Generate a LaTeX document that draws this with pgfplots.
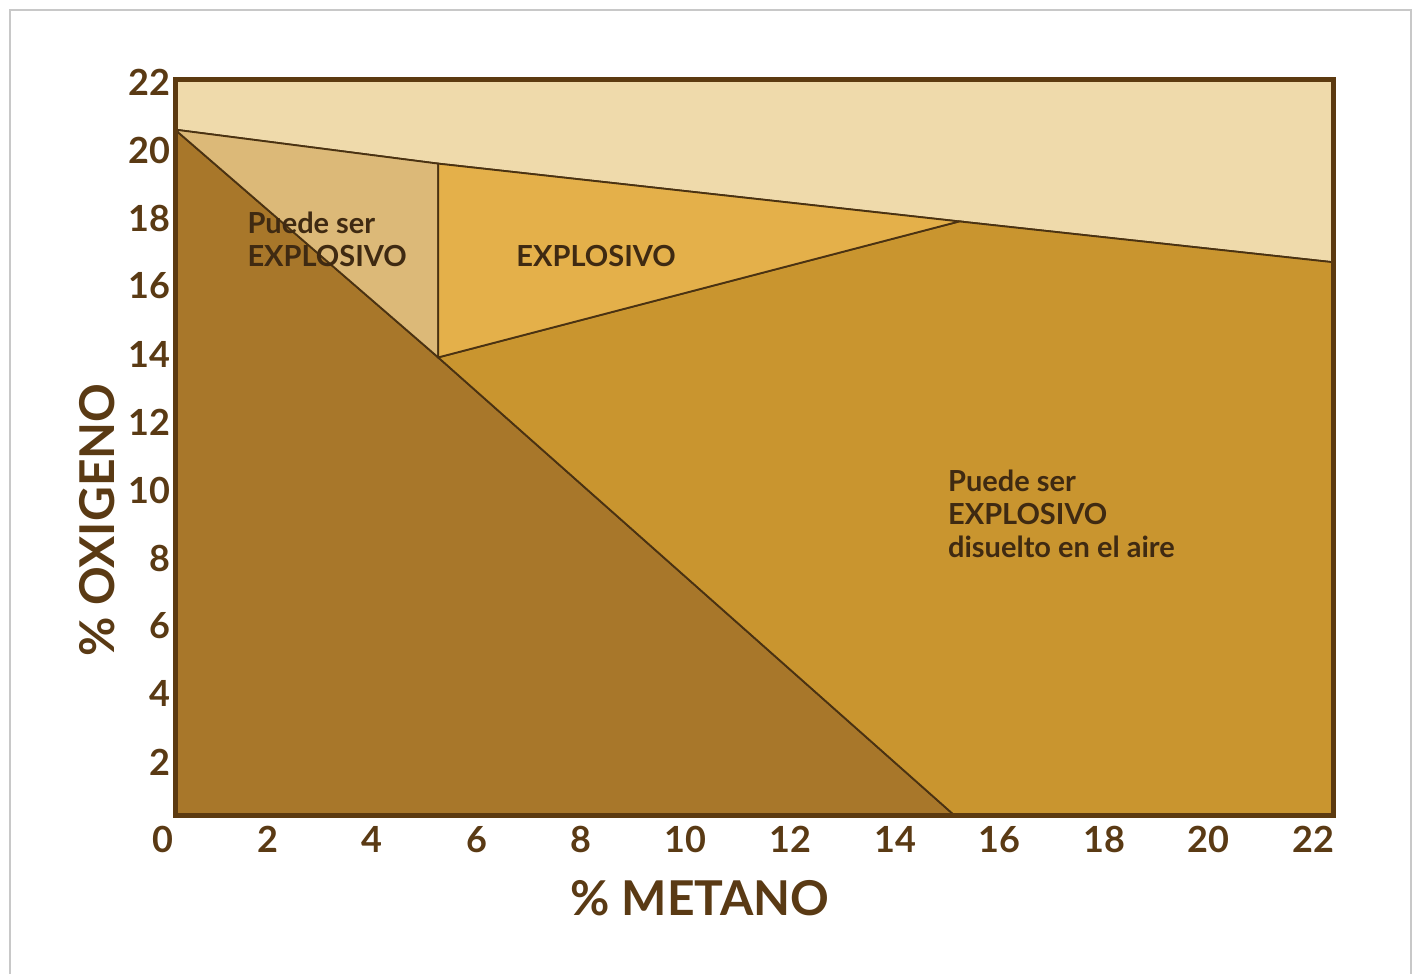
\documentclass[border=0pt]{standalone}
\usepackage{fontspec}
\setmainfont{Lato}
\usepackage{pgfplots}
\pgfplotsset{compat=1.18}
\definecolor{topc}{HTML}{EFDAAB}
\definecolor{smallc}{HTML}{DCB978}
\definecolor{explc}{HTML}{E4B04A}
\definecolor{rightc}{HTML}{C9952F}
\definecolor{leftc}{HTML}{A8772A}
\definecolor{linec}{HTML}{4A3212}
\definecolor{framec}{HTML}{5C3A10}
\definecolor{txtc}{HTML}{5A3A14}
\definecolor{regtxt}{HTML}{3F2A12}
\definecolor{outerc}{HTML}{C8C8C8}
\begin{document}
\begin{tikzpicture}
\fill[white] (0pt,0pt) rectangle (708pt,487pt);
\useasboundingbox (0pt,0pt) rectangle (708pt,487pt);
\draw[outerc, line width=1pt] (5pt,0pt) -- (5pt,482pt) -- (705.5pt,482pt) -- (705.5pt,0pt);
\begin{axis}[
  at={(87.5pt,79.5pt)}, anchor=south west,
  scale only axis, width=579pt, height=367.5pt,
  xmin=0, xmax=22, ymin=0.44, ymax=22.06,
  xtick={0,2,...,22}, ytick={2,4,...,22},
  major tick length=0pt,
  axis on top,
  axis line style={line width=2.5pt, color=framec},
  /pgf/number format/assume math mode=true,
  ticklabel style={font=\fontsize{18}{20}\selectfont\bfseries, text=txtc},
  xticklabel style={xshift=-6pt-0.35pt*\ticknum, yshift=-2pt},
  yticklabel style={xshift=1pt},
  xlabel={\% METANO}, ylabel={\% OXIGENO},
  label style={font=\fontsize{24}{28}\selectfont\bfseries, text=txtc},
  xlabel style={at={(axis description cs:0.4534,-0.1129)}, anchor=center},
  ylabel style={at={(axis description cs:-0.0674,0.401)}, anchor=center},
]
% top band (air)
\addplot[fill=topc, draw=linec, line width=0.9pt] coordinates {(0,23) (22,23) (22,16.7) (14.9,17.9) (5,19.6) (0,20.6)} -- cycle;
% left dark region
\addplot[fill=leftc, draw=linec, line width=0.9pt] coordinates {(0,20.6) (5,13.9) (14.8,0.44) (0,0.44)} -- cycle;
% right big region
\addplot[fill=rightc, draw=linec, line width=0.9pt] coordinates {(5,13.9) (14.9,17.9) (22,16.7) (22,0.44) (14.8,0.44)} -- cycle;
% small triangle
\addplot[fill=smallc, draw=linec, line width=0.9pt] coordinates {(0,20.6) (5,19.6) (5,13.9)} -- cycle;
% explosive triangle
\addplot[fill=explc, draw=linec, line width=0.9pt] coordinates {(5,19.6) (14.9,17.9) (5,13.9)} -- cycle;

\node[anchor=north west, align=left, inner sep=0pt, text=regtxt, font=\fontsize{14.5}{16.5}\selectfont\bfseries] at (axis cs:1.37,18.2) {Puede ser\\EXPLOSIVO};
\node[anchor=west, inner sep=0pt, text=regtxt, font=\fontsize{14.5}{16.5}\selectfont\bfseries] at (axis cs:6.48,16.88) {EXPLOSIVO};
\node[anchor=north west, align=left, inner sep=0pt, text=regtxt, font=\fontsize{14.5}{16.5}\selectfont\bfseries] at (axis cs:14.68,10.6) {Puede ser\\EXPLOSIVO\\disuelto en el aire};
\end{axis}
\end{tikzpicture}
\end{document}
